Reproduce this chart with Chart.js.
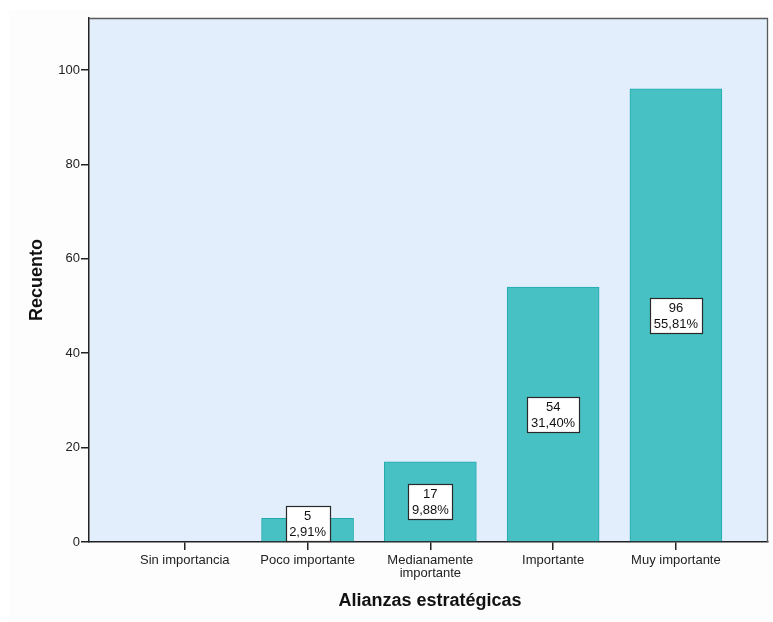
<!DOCTYPE html>
<html>
<head>
<meta charset="utf-8">
<script src="https://cdn.jsdelivr.net/npm/chart.js@4/dist/chart.umd.min.js"></script>
<style>
  html, body { margin: 0; padding: 0; background: #ffffff; }
  #wrap { width: 773px; height: 622px; position: relative; }
</style>
</head>
<body>
<div id="wrap"><canvas id="c" width="773" height="622"></canvas></div>
<script>
// Importancia de las alianzas estratégicas (recuento de respuestas)
const categories = ['Sin importancia', 'Poco importante', 'Medianamente importante', 'Importante', 'Muy importante'];
const tickLabels = [['Sin importancia'], ['Poco importante'], ['Medianamente', 'importante'], ['Importante'], ['Muy importante']];
const counts = [0, 5, 17, 54, 96];
const yTicks = [0, 20, 40, 60, 80, 100];
const yTitle = 'Recuento';
const xTitle = 'Alianzas estratégicas';

const total = counts.reduce((a, b) => a + b, 0);
const pctText = v => (v / total * 100).toFixed(2).replace('.', ',') + '%';

const FONT = '"Liberation Sans", Arial, sans-serif';

const plotBackground = {
  id: 'plotBackground',
  beforeDraw(chart) {
    const { ctx, chartArea: a } = chart;
    ctx.save();
    ctx.fillStyle = '#fdfdfd';
    ctx.fillRect(9, 10, 764, 612);
    ctx.fillStyle = '#e2eefb';
    ctx.fillRect(a.left, a.top, a.right - a.left, a.bottom - a.top);
    ctx.restore();
  },
  afterDraw(chart) {
    const { ctx, chartArea: a } = chart;
    ctx.save();
    // top and right frame
    ctx.strokeStyle = '#5a5a5a';
    ctx.lineWidth = 1.3;
    ctx.beginPath();
    ctx.moveTo(a.left, a.top + 0.5);
    ctx.lineTo(a.right - 0.5, a.top + 0.5);
    ctx.lineTo(a.right - 0.5, a.bottom);
    ctx.stroke();
    // axis titles
    ctx.fillStyle = '#111111';
    ctx.font = 'bold 18px ' + FONT;
    ctx.textAlign = 'center';
    ctx.textBaseline = 'middle';
    ctx.fillText(xTitle, 430, 601);
    ctx.translate(37, 280);
    ctx.rotate(-Math.PI / 2);
    ctx.fillText(yTitle, 0, 0);
    ctx.restore();
  }
};

const valueBoxes = {
  id: 'valueBoxes',
  afterDatasetsDraw(chart) {
    const { ctx } = chart;
    const meta = chart.getDatasetMeta(0);
    ctx.save();
    ctx.font = '13px ' + FONT;
    ctx.textAlign = 'center';
    ctx.textBaseline = 'middle';
    meta.data.forEach((bar, i) => {
      const v = counts[i];
      if (!v) return;
      const l1 = String(v), l2 = pctText(v);
      const w = Math.ceil(Math.max(ctx.measureText(l1).width, ctx.measureText(l2).width)) + 7;
      const h = 35;
      let cy = (bar.y + bar.base) / 2;
      if (cy + h / 2 > bar.base) cy = bar.base - h / 2;
      const x0 = Math.round(bar.x - w / 2) + 0.5;
      const y0 = Math.round(cy - h / 2) + 0.5;
      ctx.fillStyle = '#ffffff';
      ctx.fillRect(x0, y0, w, h);
      ctx.strokeStyle = '#2a2a2a';
      ctx.lineWidth = 1.2;
      ctx.strokeRect(x0, y0, w, h);
      ctx.fillStyle = '#111111';
      ctx.fillText(l1, bar.x, y0 + h / 2 - 7.5);
      ctx.fillText(l2, bar.x, y0 + h / 2 + 8);
    });
    ctx.restore();
  }
};

new Chart(document.getElementById('c'), {
  type: 'bar',
  data: {
    datasets: [{
      data: counts.map((v, i) => ({ x: i, y: v })),
      backgroundColor: '#48c1c5',
      borderColor: '#21aaae',
      borderWidth: 1,
      borderSkipped: 'bottom',
      barThickness: 92
    }]
  },
  options: {
    responsive: false,
    animation: false,
    layout: { padding: { top: 18, right: 5, left: 0, bottom: 0 } },
    plugins: { legend: { display: false }, tooltip: { enabled: false } },
    scales: {
      x: {
        type: 'linear',
        offset: false,
        min: -0.78,
        max: 4.75,
        afterBuildTicks(scale) { scale.ticks = categories.map((_, i) => ({ value: i })); },
        afterFit(scale) { scale.height = 80; },
        ticks: {
          autoSkip: false,
          maxRotation: 0,
          padding: 4,
          color: '#222222',
          font: { family: FONT, size: 13, lineHeight: 1.0 },
          callback: v => tickLabels[v]
        },
        grid: { offset: false, drawOnChartArea: false, tickLength: 8, color: '#222222', lineWidth: 1.5 },
        border: { display: true, color: '#222222', width: 1.5 }
      },
      y: {
        min: 0,
        max: 111,
        afterBuildTicks(scale) { scale.ticks = yTicks.map(v => ({ value: v })); },
        afterFit(scale) { scale.width = 89; },
        ticks: {
          padding: 1,
          color: '#222222',
          font: { family: FONT, size: 13 }
        },
        grid: { drawOnChartArea: false, tickLength: 8, color: '#222222', lineWidth: 1.5 },
        border: { display: true, color: '#222222', width: 1.5 }
      }
    }
  },
  plugins: [plotBackground, valueBoxes]
});
</script>
</body>
</html>
